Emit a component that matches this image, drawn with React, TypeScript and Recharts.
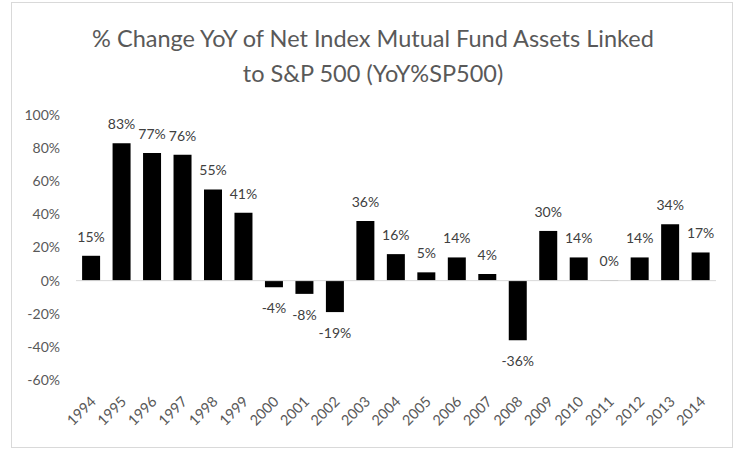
import React from "react";
import {
  BarChart,
  Bar,
  XAxis,
  YAxis,
  ReferenceLine,
  LabelList,
} from "recharts";

const years = [
  "1994", "1995", "1996", "1997", "1998", "1999", "2000", "2001", "2002", "2003", "2004",
  "2005", "2006", "2007", "2008", "2009", "2010", "2011", "2012", "2013", "2014",
];
const yoyChange = [
  0.15, 0.83, 0.77, 0.76, 0.55, 0.41, -0.04, -0.08, -0.19, 0.36, 0.16,
  0.05, 0.14, 0.04, -0.36, 0.3, 0.14, 0.003, 0.14, 0.34, 0.17,
];
const yTicks = [-0.6, -0.4, -0.2, 0, 0.2, 0.4, 0.6, 0.8, 1];
const titleLines = [
  "% Change YoY of Net Index Mutual Fund Assets Linked",
  "to S&P 500 (YoY%SP500)",
];

const data = years.map((year, i) => ({ year, value: yoyChange[i] }));

const FONT = "Lato, 'Open Sans', sans-serif";
const pct = (v: number) => `${Math.round(v * 100)}%`;

const YearTick = (props: any) => {
  const { x, y, payload } = props;
  return (
    <g transform={`translate(${x + 2},${y + 11})`}>
      <text
        x={0}
        y={0}
        dy="0.35em"
        textAnchor="end"
        transform="rotate(-45)"
        fill="#595959"
        fontSize={14.5}
        fontFamily={FONT}
      >
        {payload.value}
      </text>
    </g>
  );
};

const ValueLabel = (props: any) => {
  const { x, y, width, height, value } = props;
  const top = Math.min(y, y + height);
  const bottom = Math.max(y, y + height);
  const cy = value >= 0 ? top - 19 : bottom + 21;
  return (
    <text
      x={x + width / 2}
      y={cy}
      dy="0.35em"
      textAnchor="middle"
      fill="#404040"
      fontSize={14}
      fontFamily={FONT}
    >
      {pct(value)}
    </text>
  );
};

export default function App() {
  return (
    <div style={{ position: "absolute", left: 0, top: 0, width: 738, height: 449, background: "#fff" }}>
      <div
        style={{
          position: "absolute",
          left: 11,
          top: 2,
          width: 722,
          height: 446,
          border: "1px solid #d9d9d9",
          boxSizing: "border-box",
        }}
      />
      <div style={{ position: "absolute", left: 0, top: 0 }}>
        <BarChart
          width={738}
          height={449}
          data={data}
          margin={{ top: 115, right: 22, bottom: 9, left: 0 }}
          barCategoryGap="20%"
        >
          <text
            x={373}
            y={47}
            textAnchor="middle"
            fill="#595959"
            fontSize={23.5}
            fontWeight={400}
            fontFamily={FONT}
          >
            {titleLines[0]}
          </text>
          <text
            x={373}
            y={82}
            textAnchor="middle"
            fill="#595959"
            fontSize={23.5}
            fontWeight={400}
            fontFamily={FONT}
          >
            {titleLines[1]}
          </text>
          <XAxis
            dataKey="year"
            axisLine={false}
            tickLine={false}
            interval={0}
            height={60}
            tick={<YearTick />}
          />
          <YAxis
            width={76}
            domain={[-0.6, 1]}
            ticks={yTicks}
            tickFormatter={pct}
            axisLine={false}
            tickLine={false}
            tickMargin={10}
            tick={{ fill: "#595959", fontSize: 14, fontFamily: FONT }}
          />
          <ReferenceLine y={0} stroke="#d9d9d9" strokeWidth={1} />
          <Bar dataKey="value" fill="#000000" isAnimationActive={false}>
            <LabelList dataKey="value" content={<ValueLabel />} />
          </Bar>
        </BarChart>
      </div>
    </div>
  );
}
